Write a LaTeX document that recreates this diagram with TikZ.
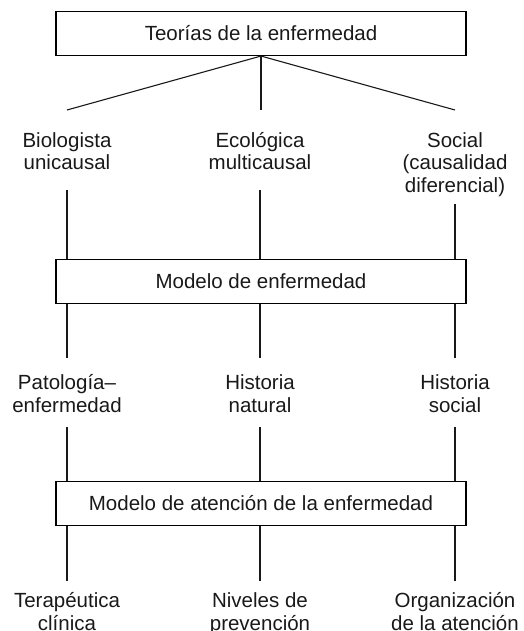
\documentclass[tikz,border=0pt]{standalone}
\usepackage{fontspec}
\setmainfont{Liberation Sans}
\begin{document}
\begin{tikzpicture}[x=1pt,y=1pt,
  txt/.style={font=\fontsize{20.5}{22.7}\selectfont, text=black!90},
  box/.style={txt, draw, line width=1.1pt, minimum width=410pt, minimum height=44pt, inner sep=0pt},
  lab/.style={txt, align=center, anchor=base, inner sep=0pt},
  conn/.style={line width=1.1pt, draw=black!90}]
\useasboundingbox (0,0) rectangle (523,-631);
% boxes
\node[box] (b1) at (261,-33.5) {Teorías de la enfermedad};
\node[box] (b2) at (261,-281.5) {Modelo de enfermedad};
\node[box] (b3) at (261,-503.5) {Modelo de atención de la enfermedad};
% labels (anchor = baseline of the last line)
\node[lab] (l1) at (67,-170) {Biologista\\unicausal};
\node[lab] (l2) at (260,-170) {Ecológica\\multicausal};
\node[lab] (l3) at (455,-192.5) {Social\\(causalidad\\diferencial)};
\node[lab] (m1) at (67,-412) {Patología–\\enfermedad};
\node[lab] (m2) at (260,-412) {Historia\\natural};
\node[lab] (m3) at (455,-412) {Historia\\social};
\node[lab] (n1) at (67,-630) {Terapéutica\\clínica};
\node[lab] (n2) at (260,-630) {Niveles de\\prevención};
\node[lab] (n3) at (455,-630) {Organización\\de la atención};
% connector ends
\coordinate (f1) at (67,-110);
\coordinate (f2) at (261,-110);
\coordinate (f3) at (455,-110);
\coordinate (a1) at (67,-190);
\coordinate (a2) at (260,-190);
\coordinate (a3) at (455,-204);
\coordinate (c1) at (67,-358);
\coordinate (c2) at (260,-358);
\coordinate (c3) at (455,-358);
\coordinate (d1) at (67,-427);
\coordinate (d2) at (260,-427);
\coordinate (d3) at (455,-427);
\coordinate (e1) at (67,-581);
\coordinate (e2) at (260,-581);
\coordinate (e3) at (455,-581);
% connectors
\draw[conn] (b1.south) -- (f1);
\draw[conn] (b1.south) -- (f2);
\draw[conn] (b1.south) -- (f3);
\foreach \i in {1,2,3}{
  \draw[conn] (a\i) -- (a\i |- b2.north);
  \draw[conn] (c\i |- b2.south) -- (c\i);
  \draw[conn] (d\i) -- (d\i |- b3.north);
  \draw[conn] (e\i |- b3.south) -- (e\i);
}
\end{tikzpicture}
\end{document}
